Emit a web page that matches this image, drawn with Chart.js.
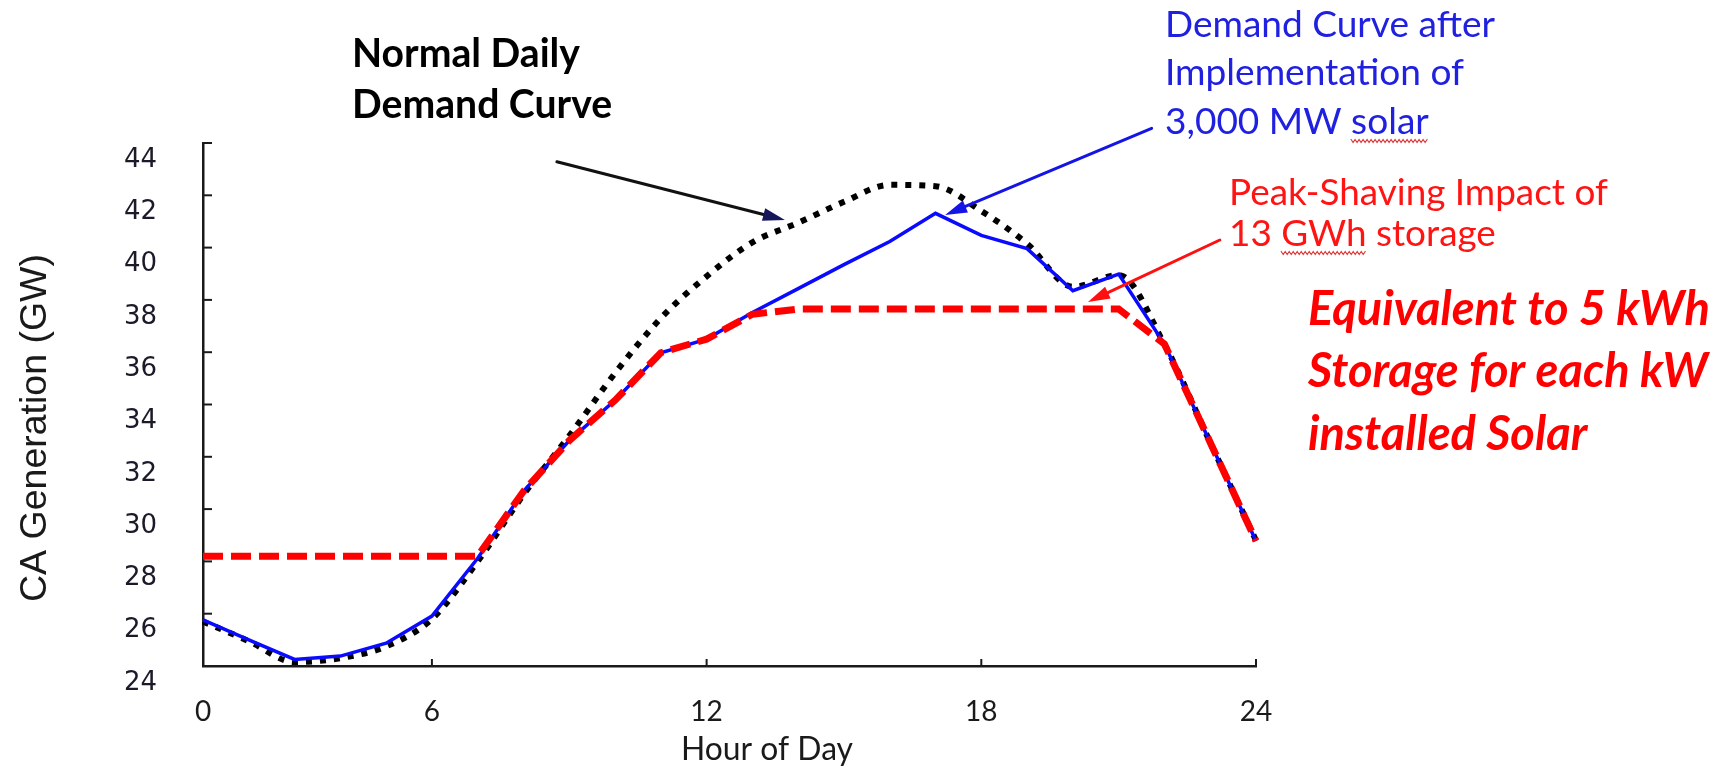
<!DOCTYPE html>
<html><head><meta charset="utf-8">
<script src="https://cdn.jsdelivr.net/npm/chart.js@4.4.1/dist/chart.umd.min.js"></script>
<style>html,body{margin:0;padding:0;background:#fff;}#wrap{width:1735px;height:768px;}</style>
</head><body><div id="wrap"><canvas id="c" width="1735" height="768"></canvas></div>
<script>
// ---- data ----
const hours = [1,2,3,4,5,6,7,8,9,10,11,12,13,14,15,16,17,18,19,20,21,22,23,24];
const normalDemand = [25.7,24.95,24.15,24.3,24.75,25.8,28.0,30.55,32.8,35.2,37.3,38.9,40.2,40.95,41.75,42.4,42.35,41.4,40.15,38.5,38.95,36.3,32.55,28.8];
const solarDemand = [25.76,25.0,24.25,24.38,24.87,25.91,28.12,30.68,32.62,34.16,35.98,36.5,37.52,38.43,39.35,40.23,41.31,40.47,39.96,38.35,38.99,36.31,32.55,28.78];
const storageDemand = [28.2,28.2,28.2,28.2,28.2,28.2,28.2,30.68,32.62,34.16,35.98,36.5,37.45,37.65,37.65,37.65,37.65,37.65,37.65,37.65,37.65,36.31,32.55,28.78];
const xTickValues = [1,6,12,18,24];
const xTickLabels = ['0','6','12','18','24'];
const yMin = 24, yMax = 44, yStep = 2;
const yTitle = 'CA Generation (GW)';
const xTitle = 'Hour of Day';

const toXY = arr => hours.map((h,i)=>({x:h,y:arr[i]}));

const annotations = {
  arrows: [
    {from:[8.73,43.28], to:[13.71,41.06], color:'#111111', head:'#16165a'},
    {from:[21.72,44.56], to:[17.21,41.25], color:'#1414e6', head:'#1414e6'},
    {from:[23.21,40.29], to:[20.33,37.92], color:'#ff1010', head:'#ff1010'}
  ],
  texts: [
    {lines:['Normal Daily','Demand Curve'], x:352, base:[67,118], style:'bold', family:'Lato', w:228, color:'#000000'},
    {lines:['Demand Curve after','Implementation of','3,000 MW solar'], x:1165, base:[37,85,134], style:'normal', family:'Lato', w:330, color:'#2020e0', squiggle:[2,'3,000 MW ','solar']},
    {lines:['Peak-Shaving Impact of','13 GWh storage'], x:1229, base:[205,246], style:'normal', family:'Lato', w:379, color:'#ff1414', squiggle:[1,'13 ','GWh']},
    {lines:['Equivalent to 5 kWh','Storage for each kW','installed Solar'], x:1308, base:[325,387,450], style:'italic bold', family:'Lato', w:402, color:'#ff0000'}
  ]
};

function fitFont(ctx, style, family, text, w){
  ctx.font = style + ' 40px ' + family;
  const m = ctx.measureText(text).width;
  const size = 40 * w / m;
  return style + ' ' + size.toFixed(2) + 'px ' + family;
}

const decor = {
  id:'decor',
  afterDraw(chart){
    const ctx = chart.ctx, xs = chart.scales.x, ys = chart.scales.y, a = chart.chartArea;
    ctx.save();
    // inward tick marks
    ctx.strokeStyle = '#1a1a1a'; ctx.lineWidth = 2;
    ys.ticks.forEach(t=>{ const y = ys.getPixelForValue(t.value); ctx.beginPath(); ctx.moveTo(a.left, y); ctx.lineTo(a.left+9, y); ctx.stroke(); });
    xs.ticks.forEach(t=>{ if (t.value===xTickValues[0]) return; const x = xs.getPixelForValue(t.value); ctx.beginPath(); ctx.moveTo(x, a.bottom); ctx.lineTo(x, a.bottom-7); ctx.stroke(); });
    // arrows
    annotations.arrows.forEach(ar=>{
      const x1 = xs.getPixelForValue(ar.from[0]), y1 = ys.getPixelForValue(ar.from[1]);
      const x2 = xs.getPixelForValue(ar.to[0]), y2 = ys.getPixelForValue(ar.to[1]);
      const ang = Math.atan2(y2-y1, x2-x1), hl = 22, hw = 6.5;
      const bx = x2 - hl*Math.cos(ang), by = y2 - hl*Math.sin(ang);
      ctx.strokeStyle = ar.color; ctx.lineWidth = 3; ctx.lineCap='round';
      ctx.beginPath(); ctx.moveTo(x1,y1); ctx.lineTo(bx,by); ctx.stroke();
      ctx.fillStyle = ar.head;
      ctx.beginPath(); ctx.moveTo(x2,y2);
      ctx.lineTo(bx + hw*Math.sin(ang), by - hw*Math.cos(ang));
      ctx.lineTo(bx - hw*Math.sin(ang), by + hw*Math.cos(ang));
      ctx.closePath(); ctx.fill();
    });
    // texts
    ctx.textAlign='left'; ctx.textBaseline='alphabetic';
    annotations.texts.forEach(t=>{
      const f = fitFont(ctx, t.style, t.family, t.lines[0], t.w);
      ctx.font = f; ctx.fillStyle = t.color;
      t.lines.forEach((ln,i)=>ctx.fillText(ln, t.x, t.base[i]));
      if (t.squiggle){
        const [li, pre, word] = t.squiggle;
        const sx = t.x + ctx.measureText(pre).width, sw = ctx.measureText(word).width, sy = t.base[li] + 7;
        ctx.strokeStyle = '#e03c3c'; ctx.lineWidth = 1.2; ctx.beginPath();
        for (let k=0, x=sx; x<=sx+sw; x+=2, k++){ const y = sy + (k%2? 1.5 : -1.5); if(k===0) ctx.moveTo(x,y); else ctx.lineTo(x,y); }
        ctx.stroke();
      }
    });
    // x axis title
    ctx.font = fitFont(ctx, 'normal', 'Lato', xTitle, 172);
    ctx.fillStyle = '#1a1a1a'; ctx.textAlign='center';
    ctx.fillText(xTitle, 767, 760);
    // y axis title (rotated)
    ctx.translate(36, 428); ctx.rotate(-Math.PI/2);
    ctx.font = 'normal 37.5px "Liberation Sans"'; ctx.textBaseline='middle'; ctx.textAlign='center';
    ctx.fillText(yTitle, 0, 0);
    ctx.restore();
  }
};

new Chart(document.getElementById('c'), {
  type:'line',
  data:{ datasets:[
    {label:'Peak-shaving with 13 GWh storage', data:toXY(storageDemand), borderColor:'#ff0000', borderWidth:7, borderDash:[20,8], pointRadius:0, tension:0, clip:false},
    {label:'Demand after 3,000 MW solar', data:toXY(solarDemand), borderColor:'#0a0aff', borderWidth:3.5, pointRadius:0, tension:0, clip:false},
    {label:'Normal daily demand', data:toXY(normalDemand), borderColor:'#000000', borderWidth:6, borderDash:[6,8], pointRadius:0, cubicInterpolationMode:'monotone', clip:false}
  ]},
  options:{
    responsive:false, animation:false, devicePixelRatio:1,
    layout:{padding:{top:143, right:479, left:0, bottom:0}},
    plugins:{legend:{display:false}, tooltip:{enabled:false}},
    scales:{
      x:{type:'linear', min:1, max:24,
        afterBuildTicks:s=>{ s.ticks = xTickValues.map(v=>({value:v})); },
        ticks:{callback:(v,i)=>xTickLabels[i], font:{family:'Lato', size:28}, color:'#1a1a1a', padding:29, maxRotation:0, autoSkip:false},
        grid:{display:false, drawTicks:false}, border:{display:true, color:'#1a1a1a', width:2.5},
        afterFit:s=>{ s.height = 102; }
      },
      y:{type:'linear', min:yMin, max:yMax,
        ticks:{stepSize:yStep, font:{family:'DejaVu Sans', size:26}, color:'#1a1a2a', padding:46, labelOffset:17},
        grid:{display:false, drawTicks:false}, border:{display:true, color:'#1a1a1a', width:2.5},
        afterFit:s=>{ s.width = 203; }
      }
    }
  },
  plugins:[decor]
});
</script></body></html>
